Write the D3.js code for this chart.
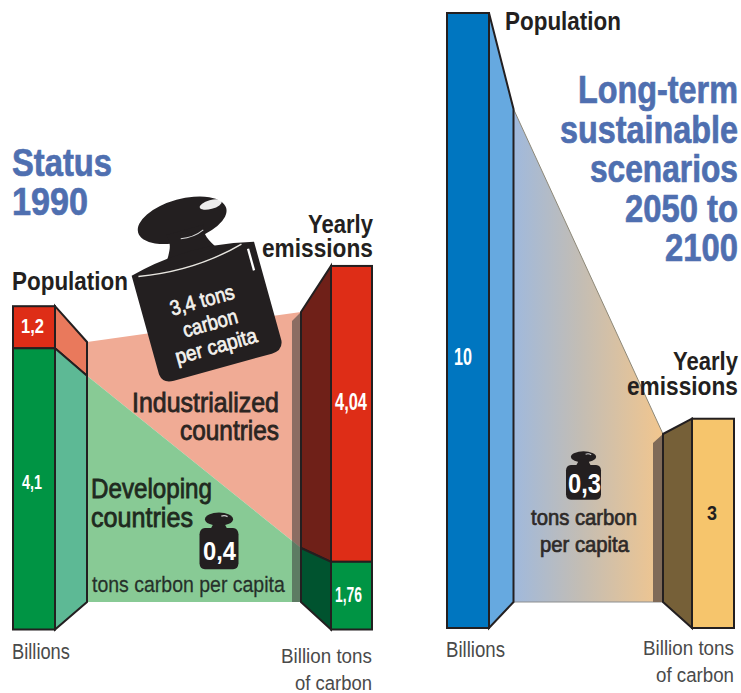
<!DOCTYPE html>
<html><head><meta charset="utf-8">
<script src="https://cdnjs.cloudflare.com/ajax/libs/d3/7.8.5/d3.min.js"></script>
<style>html,body{margin:0;background:#fff}svg{display:block}text{font-family:"Liberation Sans Narrow","Liberation Sans",sans-serif}</style>
</head><body><svg id="c" width="741" height="693"></svg>
<script>
// Printed values
const status1990Groups = ["Industrialized countries", "Developing countries"];
const status1990PopulationLabels = ["1,2", "4,1"];
const status1990EmissionLabels = ["4,04", "1,76"];
const scenarioPopulationLabel = "10";
const scenarioEmissionLabel = "3";
// Bar heights as drawn in the picture (the source is not strictly to scale)
const status1990PopulationDrawn = [0.69, 4.61];
const status1990EmissionDrawn = [4.85, 1.11];
const scenarioPopulationDrawn = [10.08];
const scenarioEmissionDrawn = [3.43];

const svg = d3.select("#c");
const INK = "#231f20";
const yL = d3.scaleLinear().domain([0, 6]).range([629.5, 263.5]);
const yR = d3.scaleLinear().domain([0, 10.08]).range([628, 13]);

const line = d3.line();
const poly = (pts, fill, extra = {}) => {
  const p = svg.append("path").attr("d", line(pts) + "Z").attr("fill", fill);
  Object.entries(extra).forEach(([k, v]) => p.attr(k, v));
  return p;
};
const stacks = (vals, y) => {
  let t = 0;
  return vals.map(v => { const s = { y0: y(t + v), y1: y(t) }; t += v; return s; });
};

// ---------- left panel
const popL = stacks([...status1990PopulationDrawn].reverse(), yL).reverse();       // [ind, dev]
const emiL = stacks([...status1990EmissionDrawn].reverse(), yL).reverse();
const pBack = d3.scaleLinear().domain([popL[0].y0, yL(0)]).range([342, 602]);
const eBack = d3.scaleLinear().domain([emiL[0].y0, yL(0)]).range([312, 602]);
const LX = { b0: 13, b1: 55, s1: 87, e0: 301, e1: 331, f1: 372 };
const splitP = popL[0].y1, splitE = emiL[0].y1;

// center wall
poly([[LX.s1, pBack(popL[0].y0)], [LX.e0, eBack(emiL[0].y0)], [LX.e0, eBack(splitE)], [LX.s1, pBack(splitP)]], "#f0ab95");
poly([[LX.s1, pBack(splitP)], [LX.e0, eBack(splitE)], [LX.e0, 602], [LX.s1, 602]], "#88ca95");
// shadow strip
poly([[292, eBack(emiL[0].y0) + 9], [LX.e0, eBack(emiL[0].y0)], [LX.e0, 602], [292, 602]], "#3a3a3a", { opacity: .55 });

const stroke = { stroke: INK, "stroke-width": 2, "stroke-linejoin": "miter" };
// population sides
poly([[LX.b1, popL[0].y0], [LX.s1, pBack(popL[0].y0)], [LX.s1, pBack(splitP)], [LX.b1, splitP]], "#e9795c", stroke);
poly([[LX.b1, splitP], [LX.s1, pBack(splitP)], [LX.s1, 602], [LX.b1, yL(0)]], "#5db995", stroke);
// emission sides
poly([[LX.e0, eBack(emiL[0].y0)], [LX.e1, emiL[0].y0], [LX.e1, splitE], [LX.e0, eBack(splitE)]], "#6f2018", stroke);
poly([[LX.e0, eBack(splitE)], [LX.e1, splitE], [LX.e1, yL(0)], [LX.e0, 602]], "#00532f", stroke);
// fronts
const bars = (data, x0, x1, colors) => svg.append("g").selectAll("rect").data(data).join("rect")
  .attr("x", x0).attr("width", x1 - x0).attr("y", d => d.y0).attr("height", d => d.y1 - d.y0)
  .attr("fill", (d, i) => colors[i]).attr("stroke", INK).attr("stroke-width", 2);
bars(popL, LX.b0, LX.b1, ["#de2d17", "#009444"]);
bars(emiL, LX.e1, LX.f1, ["#de2d17", "#009444"]);

// ---------- right panel
const popR = stacks(scenarioPopulationDrawn, yR);
const emiR = stacks(scenarioEmissionDrawn, yR);
const RX = { b0: 447, b1: 489, s1: 513.5, e0: 663, e1: 692, f1: 734 };
const defs = svg.append("defs");
const grad = defs.append("linearGradient").attr("id", "g1");
grad.append("stop").attr("offset", 0).attr("stop-color", "#a0b9dc");
grad.append("stop").attr("offset", .45).attr("stop-color", "#c3bdb4");
grad.append("stop").attr("offset", 1).attr("stop-color", "#f2c68e");
poly([[RX.s1, 109], [RX.e0, 434], [RX.e0, 602], [RX.s1, 602]], "url(#g1)");
svg.append("path").attr("d", line([[RX.s1, 109], [RX.e0, 434]])).attr("stroke", "#8d8878").attr("fill", "none");
svg.append("path").attr("d", line([[RX.s1, 602], [RX.e0, 602]])).attr("stroke", "#8d8f90").attr("fill", "none");
poly([[653, 443], [RX.e0, 434], [RX.e0, 602], [653, 602]], "#7f6a58");
poly([[RX.b1, popR[0].y0], [RX.s1, 109], [RX.s1, 602], [RX.b1, popR[0].y1]], "#66a9e0", stroke);
poly([[RX.e0, 434], [RX.e1, emiR[0].y0], [RX.e1, emiR[0].y1], [RX.e0, 602]], "#766038", stroke);
bars(popR, RX.b0, RX.b1, ["#0076c0"]);
bars(emiR, RX.e1, RX.f1, ["#f6c56c"]);

// ---------- weights
function weight(tx, ty, sx, sy, rot, knobY, big) {
  const g = svg.append("g").attr("transform", `translate(${tx},${ty}) rotate(${rot}) scale(${sx},${sy})`);
  const K = "#231f20";
  g.append("ellipse").attr("cx", 0).attr("cy", knobY).attr("rx", 36).attr("ry", big ? 17 : 15).attr("fill", K);
  g.append("path").attr("fill", K).attr("d", `M-15,${knobY + 8} C-13,-12 -15,-8 -22,3 L22,3 C15,-8 13,-12 15,${knobY + 8} Z`);
  g.append("path").attr("fill", K).attr("d", big
    ? "M-50,4 Q0,-9 50,4 L50,86 Q49,94 40,94 L-40,94 Q-49,94 -50,86 Z"
    : "M-50,14 Q-49,1 -36,0 L36,0 Q49,1 50,14 L50,80 Q49,93 36,94 L-36,94 Q-49,93 -50,80 Z");
  if (big) {
    g.append("path").attr("fill", "none").attr("stroke", "#e8e6e0").attr("stroke-width", 1.1).attr("d", "M-45,6 Q0,14 40,3");
    g.append("path").attr("fill", "none").attr("stroke", "#fff").attr("stroke-width", 1.8).attr("d", "M44,8 L44,26");
    g.append("ellipse").attr("cx", 25).attr("cy", knobY - 6).attr("rx", 9).attr("ry", 3.5).attr("fill", "#fff").attr("opacity", .92);
    g.append("path").attr("fill", "none").attr("stroke", "#ddd").attr("stroke-width", .8).attr("d", "M-5,-14 Q5,-12 14,-16");
  } else {
    g.append("path").attr("fill", "none").attr("stroke", "#cfcfcf").attr("stroke-width", 3).attr("d", "M6," + (knobY - 7) + " Q14," + (knobY - 10) + " 22," + (knobY - 6));
  }
}
weight(191.5, 254, 1.27, 1.25, -15.5, -28, true);
weight(219, 528, .39, .44, 0, -20, false);
weight(583.5, 465, .35, .37, 0, -22, false);

// ---------- text: x = left edge, b = baseline, w = measured width; squeezed horizontally to fit
function label(str, x, b, size, w, fill = INK, weightV = "normal", thick = 0) {
  const t = svg.append("text").text(str).attr("font-size", size).attr("fill", fill).attr("font-weight", weightV);
  if (thick) t.attr("stroke", fill).attr("stroke-width", thick);
  const natural = t.node().getComputedTextLength();
  t.attr("transform", `translate(${x},${b}) scale(${w / natural},1)`);
  return t;
}
const BLUE = "#4f6fb0", GREY = "#4a4a4a";
label("Status", 12, 176, 38, 100, BLUE, "bold", .7);
label("1990", 12, 215, 38, 76, BLUE, "bold", .7);
["Long-term", "sustainable", "scenarios", "2050 to", "2100"].forEach((s, i) => {
  const left = [578, 560, 590, 625, 665][i], base = [103, 143, 182, 222, 261][i];
  label(s, left, base, 38, 738 - left, BLUE, "bold", .7);
});
label("Population", 12, 290, 26, 116, INK, "bold");
label("Yearly", 308, 233, 26, 65, INK, "bold");
label("emissions", 262, 257, 26, 111, INK, "bold");
label(status1990PopulationLabels[0], 21, 333, 21, 23, "#fff", "bold");
label(status1990PopulationLabels[1], 22, 489, 21, 20, "#fff", "bold");
label(status1990EmissionLabels[0], 335, 410, 23, 32, "#fff", "bold");
label(status1990EmissionLabels[1], 335, 602, 22, 27, "#fff", "bold");
label("Industrialized", 132, 412, 27, 147, "#2b2522", "normal", .8);
label("countries", 180, 440, 27, 99, "#2b2522", "normal", .8);
label("Developing", 91, 498, 27, 121, "#1f2a20", "normal", .8);
label("countries", 91, 527, 27, 102, "#1f2a20", "normal", .8);
label("0,4", 203, 560, 26, 33, "#fff", "bold");
label("tons carbon per capita", 92, 592, 22, 193, "#26302a", "normal", .25);
label("Billions", 12, 659, 22, 58, GREY);
label("Billion tons", 281, 663, 21, 91, GREY);
label("of carbon", 295, 690, 21, 77, GREY);
// inside the big weight
[["3,4 tons", 204, 307, 66], ["carbon", 212, 330, 56], ["per capita", 218, 353, 84]].forEach(([s, x, y, w]) => {
  const t = svg.append("text").text(s).attr("text-anchor", "middle").attr("font-size", 21)
    .attr("fill", "#f4f2ee").attr("stroke", "#f4f2ee").attr("stroke-width", .7);
  const n = t.node().getComputedTextLength();
  t.attr("transform", `translate(${x},${y}) rotate(-15.5) scale(${w / n},1)`);
});
label("Population", 505, 30, 26, 116, INK, "bold");
label(scenarioPopulationLabel, 454, 365, 23, 18, "#fff", "bold");
label("Yearly", 673, 370, 26, 65, INK, "bold");
label("emissions", 627, 395, 26, 111, INK, "bold");
label("0,3", 568, 493, 28, 33, "#fff", "bold");
label("tons carbon", 531, 525, 22, 106, "#2e2a28", "normal", .7);
label("per capita", 540, 552, 22, 89, "#2e2a28", "normal", .7);
label(scenarioEmissionLabel, 707, 520, 21, 10, INK, "bold");
label("Billions", 446, 657, 22, 59, GREY);
label("Billion tons", 643, 655, 21, 91, GREY);
label("of carbon", 656, 682, 21, 78, GREY);
</script></body></html>
